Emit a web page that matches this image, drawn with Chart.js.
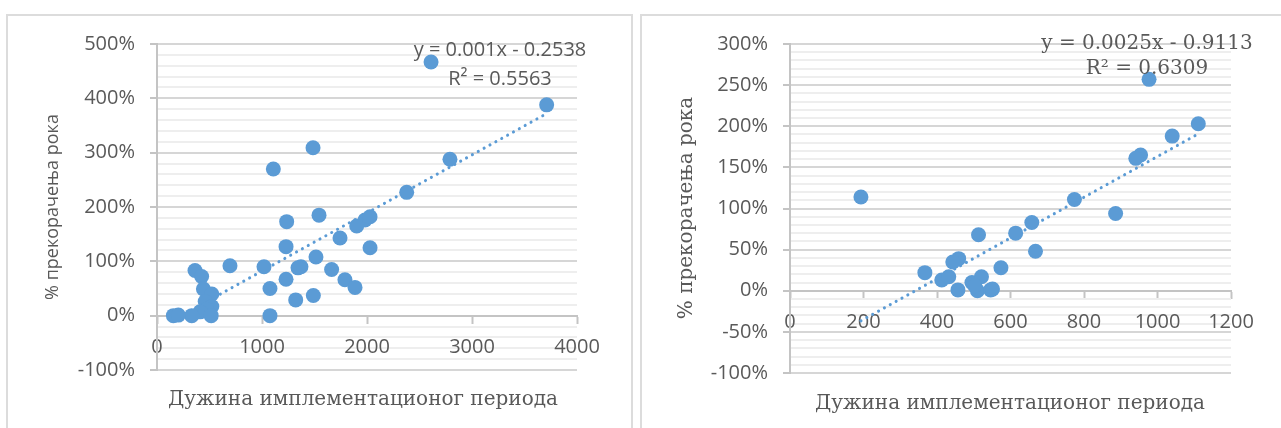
<!DOCTYPE html>
<html>
<head>
<meta charset="utf-8">
<script src="https://cdn.jsdelivr.net/npm/chart.js@4.4.1/dist/chart.umd.min.js"></script>
<style>
  html, body { margin: 0; padding: 0; background: #fff; width: 1281px; height: 428px; overflow: hidden; position: relative; }
  .panel { position: absolute; border: 2px solid #dcdcdc; box-sizing: border-box; }
  #p1 { left: 6px; top: 14px; width: 627px; height: 440px; }
  #p2 { left: 640px; top: 14px; width: 680px; height: 440px; }
  canvas { position: absolute; top: 0; }
  #c1 { left: 0; }
  #c2 { left: 636px; }
</style>
</head>
<body>
<div class="panel" id="p1"></div>
<div class="panel" id="p2"></div>
<canvas id="c1" width="636" height="428"></canvas>
<canvas id="c2" width="645" height="428"></canvas>
<script>
// Project set A: implementation length vs. % schedule overrun
const durationA = [2610, 3711, 1486, 1108, 2790, 2378,
  1543, 1235, 1981, 2029, 1902, 1743, 2029, 1229, 1514,
  695, 1019, 1371, 1343, 1663, 1229, 1790, 1886, 1076, 1321, 1489, 1076,
  362, 425, 442, 522, 459, 522, 473, 411, 516, 331, 156, 203];
const overrunA = [467, 388, 309, 270, 288, 227,
  185, 173, 176, 182, 165, 143, 125, 127, 108,
  92, 90, 90, 88, 85, 67, 66, 52, 50, 29, 37, 0,
  83, 72, 49, 40, 26, 17, 12, 7, 0, 0, 0, 1];

// Project set B
const durationB = [193, 977, 1111, 1040, 954, 941, 774, 886, 658, 614, 668, 513, 574,
  367, 459, 443, 413, 432, 457, 495, 521, 510, 546, 551, 503];
const overrunB = [114, 257, 203, 188, 165, 161, 111, 94, 83, 70, 48, 68, 28,
  22, 39, 35, 13, 17, 1, 10, 17, 0, 1, 2, 6];

// Axis ranges: [min, max, step]
const xRangeA = [0, 4000, 1000];
const yRangeA = [-100, 500, 20];
const yLabelStepA = 100;
const xRangeB = [0, 1200, 200];
const yRangeB = [-100, 300, 10];
const yLabelStepB = 50;

const trendTextA = ['y = 0.001x - 0.2538', 'R² = 0.5563'];
const trendTextB = ['y = 0.0025x - 0.9113', 'R² = 0.6309'];
const xTitle = 'Дужина имплементационог периода';
const yTitle = '% прекорачења рока';

const BLUE = '#5b9bd5';
const TEXT = '#595959';

function toPoints(xs, ys) { return xs.map((x, i) => ({ x: x, y: ys[i] })); }

// Least-squares linear trend over the observed range
function trendLine(xs, ys) {
  const n = xs.length;
  const mx = xs.reduce((a, b) => a + b, 0) / n;
  const my = ys.reduce((a, b) => a + b, 0) / n;
  let sxy = 0, sxx = 0;
  for (let i = 0; i < n; i++) { sxy += (xs[i] - mx) * (ys[i] - my); sxx += (xs[i] - mx) ** 2; }
  const b = sxy / sxx, a = my - b * mx;
  const lo = Math.min(...xs), hi = Math.max(...xs);
  return [{ x: lo, y: a + b * lo }, { x: hi, y: a + b * hi }];
}

const annotate = {
  id: 'annotate',
  afterDatasetsDraw(chart, args, o) {
    const ctx = chart.ctx;
    ctx.save();
    ctx.fillStyle = TEXT;
    ctx.textAlign = 'center';
    ctx.textBaseline = 'middle';
    ctx.save();
    ctx.translate(o.yTitle.x, o.yTitle.y);
    ctx.rotate(-Math.PI / 2);
    ctx.font = o.yTitle.font;
    ctx.fillText(yTitle, 0, 0);
    ctx.restore();
    ctx.font = o.xTitle.font;
    ctx.fillText(xTitle, o.xTitle.x, o.xTitle.y);
    ctx.font = o.trend.font;
    o.trend.lines.forEach((t, i) => ctx.fillText(t, o.trend.x, o.trend.y[i]));
    ctx.restore();
  }
};

function build(canvas, c) {
  const isMajor = v => Math.round(v) % c.labelStep === 0;
  return new Chart(canvas, {
    type: 'scatter',
    data: {
      datasets: [
        { data: toPoints(c.xs, c.ys), backgroundColor: BLUE, borderWidth: 0,
          pointRadius: 7.5, pointHoverRadius: 7.5, order: 0 },
        { type: 'line', data: trendLine(c.xs, c.ys), borderColor: BLUE, borderWidth: 3,
          borderDash: [0.1, 6.6], borderCapStyle: 'round', pointRadius: 0, fill: false, order: 1 }
      ]
    },
    options: {
      responsive: false, animation: false, events: [],
      layout: { padding: { left: 0, top: c.top, right: c.right, bottom: c.bottom } },
      plugins: { legend: { display: false }, tooltip: { enabled: false }, annotate: c.text },
      scales: {
        x: {
          type: 'linear', position: { y: 0 },
          min: c.xRange[0], max: c.xRange[1],
          ticks: { stepSize: c.xRange[2], color: TEXT, font: { family: 'Open Sans', size: 20 },
                   padding: 13, maxRotation: 0, autoSkip: false,
                   callback: v => String(Math.round(v)) },
          grid: { drawOnChartArea: false, drawTicks: true, tickLength: 7, tickColor: '#c4c4c4', tickWidth: 2 },
          border: { display: true, color: '#c4c4c4', width: 2 }
        },
        y: {
          type: 'linear', min: c.yRange[0], max: c.yRange[1],
          afterFit: s => { s.width = c.axisWidth; },
          ticks: { stepSize: c.yRange[2], autoSkip: false, color: TEXT,
                   font: { family: 'Open Sans', size: 20 }, padding: 15,
                   callback: v => isMajor(v) ? Math.round(v) + '%' : '' },
          grid: {
            color: ctx => isMajor(ctx.tick.value) ? '#d6d6d6' : '#eeeeee',
            tickColor: ctx => isMajor(ctx.tick.value) ? '#c4c4c4' : 'rgba(0,0,0,0)',
            lineWidth: 2, tickWidth: 2, tickLength: 7
          },
          border: { display: true, color: '#c4c4c4', width: 2 }
        }
      }
    },
    plugins: [annotate]
  });
}

build(document.getElementById('c1'), {
  xs: durationA, ys: overrunA, xRange: xRangeA, yRange: yRangeA, labelStep: yLabelStepA,
  top: 44, bottom: 58, right: 59, axisWidth: 157,
  text: {
    yTitle: { x: 53, y: 207, font: '18px "Open Sans"' },
    xTitle: { x: 363, y: 400, font: '20px "DejaVu Serif"' },
    trend: { x: 500, y: [50, 79], font: '20px "Open Sans"', lines: trendTextA }
  }
});

build(document.getElementById('c2'), {
  xs: durationB, ys: overrunB, xRange: xRangeB, yRange: yRangeB, labelStep: yLabelStepB,
  top: 44, bottom: 55, right: 50, axisWidth: 154,
  text: {
    yTitle: { x: 51, y: 208, font: '20px "DejaVu Serif"' },
    xTitle: { x: 374, y: 404, font: '20px "DejaVu Serif"' },
    trend: { x: 511, y: [44, 69], font: '20px "DejaVu Serif"', lines: trendTextB }
  }
});
</script>
</body>
</html>
